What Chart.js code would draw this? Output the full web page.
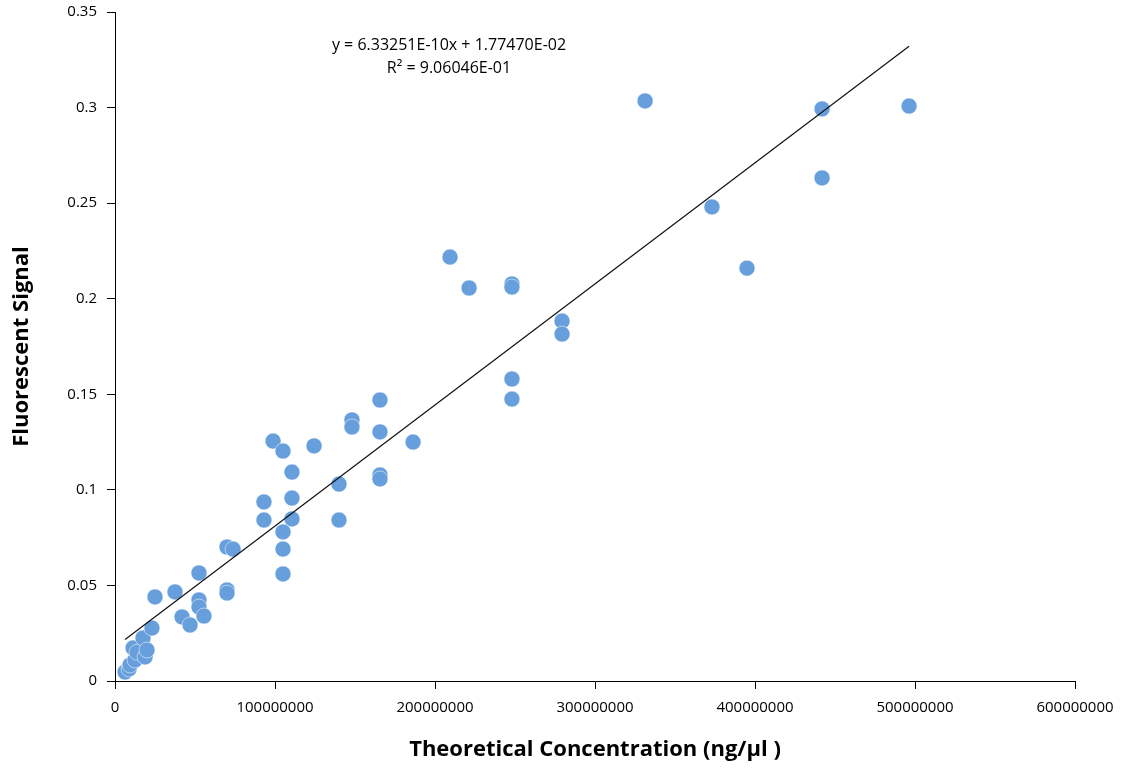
<!DOCTYPE html>
<html>
<head>
<meta charset="utf-8">
<script src="https://cdn.jsdelivr.net/npm/chart.js@4"></script>
<style>
  html, body { margin: 0; padding: 0; background: #fff; }
  #wrap { width: 1136px; height: 772px; }
</style>
</head>
<body>
<div id="wrap"><canvas id="chart" width="1136" height="772"></canvas></div>
<script>
// Theoretical concentration (ng/µl)
const concentration = [
    6.3e6, 8.8e6, 9.4e6, 12.5e6, 11.3e6, 13.8e6, 17.5e6, 18.8e6, 20.0e6, 23.1e6,
    25.0e6, 37.5e6, 41.9e6, 46.9e6, 52.5e6, 52.5e6, 52.5e6, 55.6e6,
    70.0e6, 70.0e6, 70.0e6, 73.8e6, 93.1e6, 93.1e6, 98.8e6,
    105.0e6, 105.0e6, 105.0e6, 105.0e6, 110.6e6, 110.6e6, 110.6e6,
    124.4e6, 140.0e6, 140.0e6, 148.1e6, 148.1e6,
    165.6e6, 165.6e6, 165.6e6, 165.6e6, 186.3e6, 209.4e6, 221.3e6,
    248.1e6, 248.1e6, 248.1e6, 248.1e6, 279.4e6, 279.4e6,
    331.3e6, 373.1e6, 395.0e6, 441.9e6, 441.9e6, 496.3e6
];
// Fluorescent signal
const signal = [
    0.0047, 0.0063, 0.0084, 0.0110, 0.0173, 0.0150, 0.0225, 0.0126, 0.0162, 0.0277,
    0.0440, 0.0466, 0.0335, 0.0293, 0.0565, 0.0424, 0.0387, 0.0340,
    0.0476, 0.0460, 0.0701, 0.0690, 0.0937, 0.0842, 0.1255,
    0.1203, 0.0780, 0.0690, 0.0560, 0.1093, 0.0957, 0.0848,
    0.1230, 0.1030, 0.0842, 0.1366, 0.1329,
    0.1470, 0.1303, 0.1078, 0.1057, 0.1250, 0.2218, 0.2056,
    0.2077, 0.2061, 0.1580, 0.1475, 0.1883, 0.1815,
    0.3035, 0.2480, 0.2160, 0.2993, 0.2632, 0.3008
];

// Linear trendline (from the fitted equation)
const slope = 6.33251e-10;
const intercept = 1.77470e-02;
const trendLabels = ['y = 6.33251E-10x + 1.77470E-02', 'R\u00b2 = 9.06046E-01'];

const xTicks = [0, 100000000, 200000000, 300000000, 400000000, 500000000, 600000000];
const yTicks = [0, 0.05, 0.1, 0.15, 0.2, 0.25, 0.3, 0.35];

const points = concentration.map((x, i) => ({ x: x, y: signal[i] }));
const xMin = Math.min(...concentration);
const xMax = Math.max(...concentration);
const trend = [xMin, xMax].map(x => ({ x: x, y: slope * x + intercept }));

// Draws the trendline equation above the plot
const equationPlugin = {
    id: 'equation',
    afterDraw(chart) {
        const ctx = chart.ctx;
        ctx.save();
        ctx.fillStyle = '#000';
        ctx.font = '16px "Open Sans"';
        ctx.textAlign = 'center';
        ctx.textBaseline = 'middle';
        ctx.fillText(trendLabels[0], 449, 45);
        ctx.fillText(trendLabels[1], 449, 68);
        ctx.restore();
    }
};

const tickFont = { family: 'Open Sans', size: 15 };
const titleFont = { family: 'Open Sans', size: 22, weight: 'bold' };

new Chart(document.getElementById('chart').getContext('2d'), {
    type: 'scatter',
    data: {
        datasets: [{
            label: 'Signal',
            data: points,
            backgroundColor: '#679fdc',
            borderColor: 'rgba(255,255,255,0.5)',
            borderWidth: 1,
            pointRadius: 8,
            order: 2
        }, {
            type: 'line',
            label: 'Trend',
            data: trend,
            borderColor: '#111',
            borderWidth: 1.2,
            pointRadius: 0,
            fill: false,
            order: 1
        }]
    },
    options: {
        responsive: false,
        animation: false,
        layout: { padding: { top: 12, right: 61, bottom: 0, left: 0 } },
        plugins: {
            legend: { display: false },
            tooltip: { enabled: false }
        },
        scales: {
            x: {
                type: 'linear',
                min: 0,
                max: 600000000,
                afterFit: s => { s.height = 91; s.paddingLeft = 0; s.paddingRight = 0; },
                afterBuildTicks: s => { s.ticks = xTicks.map(v => ({ value: v })); },
                ticks: {
                    color: '#000',
                    font: tickFont,
                    padding: 10,
                    maxRotation: 0,
                    callback: v => String(v)
                },
                grid: { drawOnChartArea: false, drawTicks: true, tickLength: 8, color: '#000' },
                border: { display: true, color: '#000', width: 1 },
                title: {
                    display: true,
                    text: 'Theoretical Concentration (ng/\u00b5l )',
                    color: '#000',
                    font: titleFont,
                    padding: { top: 0, bottom: 9 }
                }
            },
            y: {
                min: 0,
                max: 0.35,
                afterFit: s => { s.width = 115; s.paddingTop = 0; s.paddingBottom = 0; },
                afterBuildTicks: s => { s.ticks = yTicks.map(v => ({ value: v })); },
                ticks: {
                    color: '#000',
                    font: tickFont,
                    padding: 10,
                    callback: v => String(+v.toFixed(2))
                },
                grid: { drawOnChartArea: false, drawTicks: true, tickLength: 8, color: '#000' },
                border: { display: true, color: '#000', width: 1 },
                title: {
                    display: true,
                    text: 'Fluorescent Signal',
                    color: '#000',
                    font: titleFont,
                    padding: { top: 9, bottom: 0 }
                }
            }
        }
    },
    plugins: [equationPlugin]
});
</script>
</body>
</html>
